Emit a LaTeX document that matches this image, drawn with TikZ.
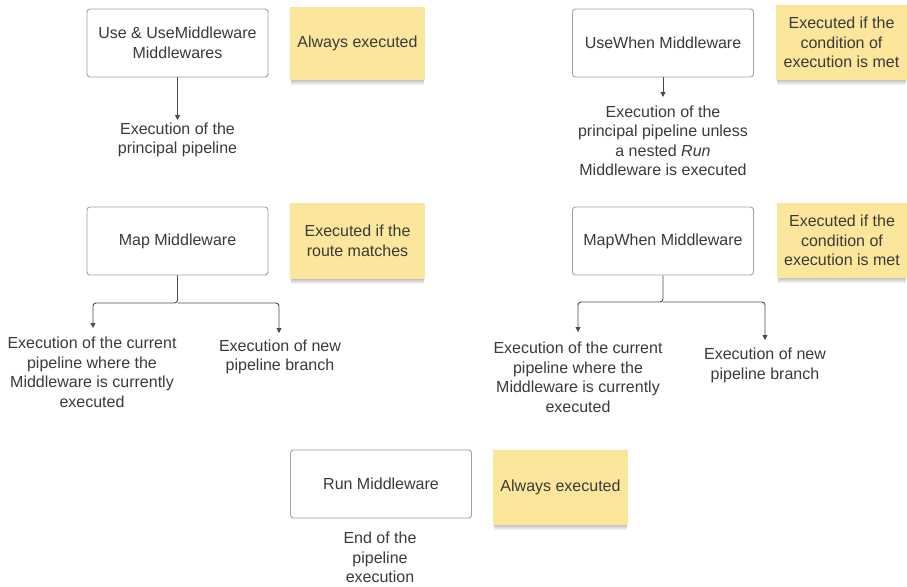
\documentclass[tikz,border=0pt]{standalone}
\usepackage{fontspec}
\setmainfont{Liberation Sans}
\usetikzlibrary{arrows.meta}
\definecolor{txt}{HTML}{3A3A3A}
\definecolor{boxc}{HTML}{A0A0A0}
\definecolor{linec}{HTML}{4A4A4A}
\definecolor{stickyc}{HTML}{FCE69C}
\begin{document}
\begin{tikzpicture}[x=1pt,y=-1pt,
  every node/.style={font=\fontsize{16}{19.5}\selectfont, text=txt},
  mbox/.style={draw=boxc, line width=0.9pt, rounded corners=3pt, fill=white,
    minimum width=181pt, minimum height=68pt, align=center, inner sep=0pt},
  sticky/.style={fill=stickyc, align=center, inner sep=0pt, minimum height=75pt},
  lbl/.style={align=center, inner sep=0pt},
  conn/.style={draw=linec, line width=0.9pt, rounded corners=3pt,
    -{Triangle[length=5pt,width=5pt]}},
  shade/.style={fill=black, opacity=0.05}]
\useasboundingbox (0,0) rectangle (907,586);

% sticky shadows
\foreach \xa/\ya/\xb/\yb in {290/7/425/80, 776/5/907/80, 290/203/425/279, 777/203/907/278, 493/450/628/525}{
  \foreach \d in {1,2,3,4,5}{
    \fill[shade] (\xa+1,\ya+\d) rectangle (\xb-1,\yb+\d);
  }
}

% row 1
\node[mbox] (use) at (177.5,43) {Use \& UseMiddleware\\Middlewares};
\node[sticky, minimum width=135pt, minimum height=73pt] (s1) at (357.5,43.5) {Always executed};
\node[lbl] (useL) at (177.5,140) {Execution of the\\principal pipeline};
\coordinate (useT) at (177.5,120);
\draw[conn] (use.south) -- (useT);

\node[mbox] (usewhen) at (663,43) {UseWhen Middleware};
\node[sticky, minimum width=131pt] (s2) at (841.5,42.5) {Executed if the\\condition of\\execution is met};
\node[lbl] (usewhenL) at (663,141) {Execution of the\\principal pipeline unless\\a nested \textit{Run}\\Middleware is executed};
\coordinate (usewhenT) at (663,97);
\draw[conn] (usewhen.south) -- (usewhenT);

% row 2
\node[mbox] (map) at (177.5,241) {Map Middleware};
\node[sticky, minimum width=135pt, minimum height=76pt] (s3) at (357.5,241) {Executed if the\\route matches};
\node[lbl] (mapL) at (92,372.5) {Execution of the current\\pipeline where the\\Middleware is currently\\executed};
\node[lbl] (mapR) at (280,357) {Execution of new\\pipeline branch};
\coordinate (mapJ) at (177.5,303);
\coordinate (mapLt) at (93,328);
\coordinate (mapRt) at (279,333);
\draw[conn] (map.south) -- (mapJ) -| (mapLt);
\draw[conn] (mapJ) -| (mapRt);

\node[mbox] (mapwhen) at (663,241) {MapWhen Middleware};
\node[sticky, minimum width=130pt] (s4) at (842,240.5) {Executed if the\\condition of\\execution is met};
\node[lbl] (mapwhenL) at (578,377.5) {Execution of the current\\pipeline where the\\Middleware is currently\\executed};
\node[lbl] (mapwhenR) at (765,365.5) {Execution of new\\pipeline branch};
\coordinate (mapwhenJ) at (663,302);
\coordinate (mapwhenLt) at (578,332);
\coordinate (mapwhenRt) at (765,340);
\draw[conn] (mapwhen.south) -- (mapwhenJ) -| (mapwhenLt);
\draw[conn] (mapwhenJ) -| (mapwhenRt);

% row 3
\node[mbox] (run) at (381,484) {Run Middleware};
\node[sticky, minimum width=135pt] (s5) at (560.5,487.5) {Always executed};
\node[lbl] (runL) at (380,557.5) {End of the\\pipeline\\execution};
\end{tikzpicture}
\end{document}
